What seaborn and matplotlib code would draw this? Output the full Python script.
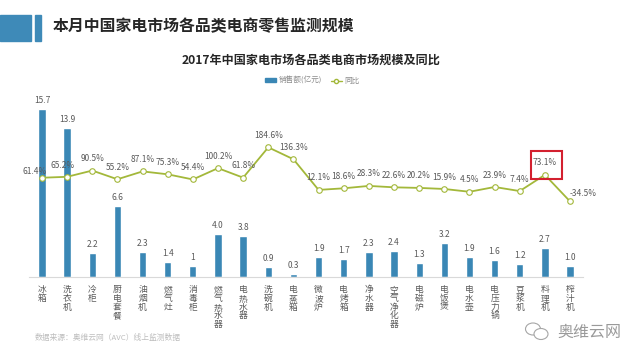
"""
2017 China home-appliance e-commerce sales by category (bars) with YoY growth (line).
"""
import matplotlib
matplotlib.use("Agg")
import matplotlib.pyplot as plt
import matplotlib.transforms as mtransforms
import numpy as np
import seaborn as sns
from matplotlib.lines import Line2D
from matplotlib.patches import Ellipse, Patch, Rectangle

sns.set_theme(style="white")
plt.rcParams["font.family"] = ["Noto Sans CJK SC", "DejaVu Sans"]

categories = ["冰箱", "洗衣机", "冷柜", "厨电套餐", "油烟机", "燃气灶", "消毒柜",
              "燃气热水器", "电热水器", "洗碗机", "电蒸箱", "微波炉", "电烤箱", "净水器",
              "空气净化器", "电磁炉", "电饭煲", "电水壶", "电压力锅", "豆浆机", "料理机",
              "榨汁机"]
sales = [15.7, 13.9, 2.2, 6.6, 2.3, 1.4, 1.0, 4.0, 3.8, 0.9, 0.3, 1.9, 1.7, 2.3,
         2.4, 1.3, 3.2, 1.9, 1.6, 1.2, 2.7, 1.0]
sales_labels = ["15.7", "13.9", "2.2", "6.6", "2.3", "1.4", "1", "4.0", "3.8", "0.9",
                "0.3", "1.9", "1.7", "2.3", "2.4", "1.3", "3.2", "1.9", "1.6", "1.2",
                "2.7", "1.0"]
yoy = [61.4, 65.2, 90.5, 55.2, 87.1, 75.3, 54.4, 100.2, 61.8, 184.6, 136.3, 12.1,
       18.6, 28.3, 22.6, 20.2, 15.9, 4.5, 23.9, 7.4, 73.1, -34.5]
highlight = "料理机"

BAR = "#3A87B5"
LINE = "#A3B83A"
GREY = "#595959"

fig = plt.figure(figsize=(6.4, 3.6), dpi=100)

# header block
fig.patches.append(Rectangle((0, 1 - 41 / 360), 31 / 640, 26 / 360,
                             transform=fig.transFigure, color="#3E8AB8"))
fig.patches.append(Rectangle((35 / 640, 1 - 41 / 360), 6 / 640, 26 / 360,
                             transform=fig.transFigure, color="#3E8AB8"))
fig.text(53 / 640, 1 - 26 / 360, "本月中国家电市场各品类电商零售监测规模",
         fontsize=11.4, fontweight="bold", color="#262626", va="center")
fig.text(0.486, 1 - 60 / 360, "2017年中国家电市场各品类电商市场规模及同比",
         fontsize=8.7, fontweight="bold", color="#262626", ha="center", va="center")

ax = fig.add_axes([29.4 / 640, 83 / 360, 553.2 / 640, 177 / 360])
x = np.arange(len(categories))
sns.barplot(x=categories, y=sales, color=BAR, width=0.29, saturation=1, ax=ax)
ax.set_xlim(-0.5, len(categories) - 0.5)
ax.set_ylim(0, 16.54)
for i, (v, lbl) in enumerate(zip(sales, sales_labels)):
    ax.annotate(lbl, (i, v), xytext=(0, 3), textcoords="offset points",
                ha="center", va="bottom", fontsize=6, color=GREY)
ax.set_xticks(x)
ax.set_xticklabels(["\n".join(c) for c in categories], fontsize=6.3, color=GREY,
                   linespacing=0.95, va="top")
ax.tick_params(axis="x", length=0, pad=6)
ax.set_yticks([])
for s in ["top", "left", "right"]:
    ax.spines[s].set_visible(False)
ax.spines["bottom"].set_color("#D9D9D9")
ax.spines["bottom"].set_linewidth(0.8)

ax2 = ax.twinx()
sns.lineplot(x=x, y=yoy, color=LINE, linewidth=1.3, marker="o", markersize=4,
             markerfacecolor="white", markeredgecolor=LINE, markeredgewidth=0.8,
             ax=ax2)
ax2.set_xlim(-0.5, len(categories) - 0.5)
ax2.set_ylim(-340.8, 376.4)
ax2.set_yticks([])
ax2.set_ylabel("")
for s in ax2.spines.values():
    s.set_visible(False)

offsets = {0: (-5, 4.8), 1: (-3.6, 8.3), len(yoy) - 1: (9.4, 5.8)}
for i, v in enumerate(yoy):
    dx, dy = offsets.get(i, (0, 8.6))
    ax2.annotate(f"{v:.1f}%", (i, v), xytext=(dx, dy), textcoords="offset points",
                 ha="center", va="center", fontsize=6, color=GREY)

# red box around the highlighted growth value
hi = categories.index(highlight)
box_tf = (mtransforms.Affine2D().translate(-14, -4)
          + mtransforms.ScaledTranslation(hi, yoy[hi], ax2.transData))
fig.patches.append(Rectangle((0, 0), 31, 28, transform=box_tf, fill=False,
                             edgecolor="#D3202F", linewidth=1.5))

# legend
handles = [Patch(facecolor=BAR, edgecolor=BAR),
           Line2D([0], [0], color=LINE, marker="o", markersize=3,
                  markerfacecolor="white", markeredgecolor=LINE, linewidth=1)]
fig.legend(handles, ["销售额(亿元)", "同比"], loc="center", ncol=2,
           bbox_to_anchor=(0.488, 1 - 81 / 360), frameon=False, fontsize=5.5,
           labelcolor="#8C8C8C", handlelength=1.4, handleheight=0.5,
           handletextpad=0.3, columnspacing=1.2)

# footer
fig.text(35 / 640, 1 - 338 / 360, "数据来源：奥维云网（AVC）线上监测数据",
         fontsize=5.6, color="#BDBDBD", va="center")
fig.patches.append(Ellipse((533 / 640, 1 - 329 / 360), 15 / 640, 12 / 360,
                           transform=fig.transFigure, fill=False,
                           edgecolor="#A6A6A6", linewidth=0.8))
fig.patches.append(Ellipse((541 / 640, 1 - 334 / 360), 14 / 640, 11 / 360,
                           transform=fig.transFigure, facecolor="white",
                           edgecolor="#A6A6A6", linewidth=0.8))
fig.text(557 / 640, 1 - 332 / 360, "奥维云网", fontsize=11.5, color="#9A9A9A",
         va="center")

fig.savefig("out.png", dpi=100)
